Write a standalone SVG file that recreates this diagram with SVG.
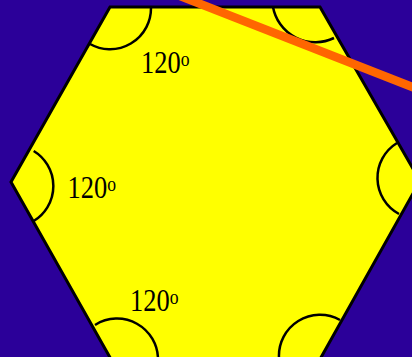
<svg xmlns="http://www.w3.org/2000/svg" width="412" height="357" viewBox="0 0 412 357">
  <style>
    .arc { fill: none; stroke: #000; stroke-width: 2.5; }
    .lbl { font-family: "Liberation Serif", "Times New Roman", serif; font-size: 31.5px; fill: #000; }
    .deg { font-size: 21px; }
  </style>
  <rect x="0" y="0" width="412" height="357" fill="#2B0099"/>
  <g id="hexagon">
    <polygon points="11,182 110,7 320,7 420,181 319,361 112,361" fill="#FFFF00" stroke="#000" stroke-width="3" stroke-linejoin="miter"/>
  </g>
  <g id="angle-arcs">
    <path class="arc" d="M151,8 A41,41 0 0 1 90,44"/>
    <path class="arc" d="M273,7 A43,43 0 0 0 334,38"/>
    <path class="arc" d="M33.7,151 A41,41 0 0 1 33.7,221"/>
    <path class="arc" d="M397,143 A41,41 0 0 0 399,214"/>
    <path class="arc" d="M95,325 A41,41 0 0 1 158,360"/>
    <path class="arc" d="M340,320 A41,41 0 0 0 279,358"/>
  </g>
  <g id="labels">
    <text class="lbl" transform="translate(141,73.3) scale(0.84,1)">120<tspan class="deg" dy="-7.3">o</tspan></text>
    <text class="lbl" transform="translate(67.5,198.3) scale(0.84,1)">120<tspan class="deg" dy="-7.3">o</tspan></text>
    <text class="lbl" transform="translate(130,311.3) scale(0.84,1)">120<tspan class="deg" dy="-7.3">o</tspan></text>
  </g>
  <g id="connectors">
    <line x1="180" y1="-4" x2="420" y2="90" stroke="#FF6600" stroke-width="8.5"/>
  </g>
</svg>
